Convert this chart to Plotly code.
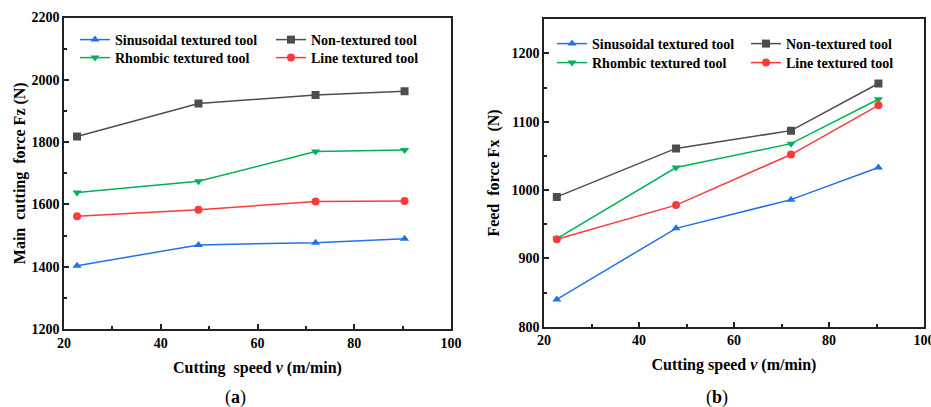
import plotly.graph_objects as go

speed = [22.7, 47.8, 72.0, 90.4]

series_names = ["Sinusoidal textured tool", "Non-textured tool",
                "Rhombic textured tool", "Line textured tool"]

# (a) Main cutting force Fz (N)
fz_sinusoidal = [1403, 1470, 1477, 1490]
fz_non = [1818, 1924, 1951, 1963]
fz_rhombic = [1638, 1674, 1770, 1775]
fz_line = [1562, 1583, 1609, 1611]

# (b) Feed force Fx (N)
fx_sinusoidal = [840, 944, 986, 1033]
fx_non = [990, 1061, 1087, 1156]
fx_rhombic = [929, 1033, 1068, 1133]
fx_line = [928, 978, 1052, 1124]

colors = ["#1f72e8", "#4d4d4d", "#00b05a", "#fb3b3b"]
symbols = ["triangle-up", "square", "triangle-down", "circle"]

FONT = "Liberation Serif"
W, H = 931, 407

fig = go.Figure()

left_data = [fz_sinusoidal, fz_non, fz_rhombic, fz_line]
right_data = [fx_sinusoidal, fx_non, fx_rhombic, fx_line]

for i in range(4):
    fig.add_trace(go.Scatter(
        x=speed, y=left_data[i], name=series_names[i], mode="lines+markers",
        line=dict(color=colors[i], width=1.5),
        marker=dict(symbol=symbols[i], size=8, color=colors[i]),
        xaxis="x", yaxis="y", legend="legend" if i == 0 else f"legend{i + 1}"))
for i in range(4):
    fig.add_trace(go.Scatter(
        x=speed, y=right_data[i], name=series_names[i], mode="lines+markers",
        line=dict(color=colors[i], width=1.5),
        marker=dict(symbol=symbols[i], size=8, color=colors[i]),
        xaxis="x2", yaxis="y2", legend=f"legend{i + 5}"))

tickfont = dict(family=FONT, size=14, color="black", weight="bold")
titlefont = dict(family=FONT, size=16, color="black", weight="bold")
axcommon = dict(showline=True, mirror=True, linecolor="#222", linewidth=1.5,
                ticks="inside", ticklen=5, tickwidth=1.5, tickcolor="#222",
                showgrid=False, zeroline=False, tickfont=tickfont, automargin=False,
                ticklabeloverflow="allow")

fig.update_layout(
    width=W, height=H, margin=dict(l=0, r=0, t=0, b=0),
    paper_bgcolor="white", plot_bgcolor="white",
    xaxis=dict(domain=[64 / W, 451 / W], range=[20, 100], dtick=20,
               minor=dict(dtick=10, ticks="inside", ticklen=3, tickcolor="#222"),
               title=dict(text="Cutting\u00a0 speed <i>v</i> (m/min)", font=titlefont, standoff=12),
               anchor="y", **axcommon),
    yaxis=dict(domain=[(H - 329) / H, (H - 17.5) / H], range=[1200, 2200], dtick=200,
               minor=dict(dtick=100, ticks="inside", ticklen=3, tickcolor="#222"),
               title=dict(text="Main\u00a0 cutting\u00a0 force Fz (N)", font=titlefont, standoff=2),
               anchor="x", **axcommon),
    xaxis2=dict(domain=[544 / W, 924 / W], range=[20, 100], dtick=20,
                minor=dict(dtick=10, ticks="inside", ticklen=3, tickcolor="#222"),
                title=dict(text="Cutting speed <i>v</i> (m/min)", font=titlefont, standoff=12),
                anchor="y2", **axcommon),
    yaxis2=dict(domain=[(H - 326.7) / H, (H - 19.3) / H], range=[800, 1250], dtick=100,
                minor=dict(dtick=50, ticks="inside", ticklen=3, tickcolor="#222"),
                title=dict(text="Feed\u00a0 force Fx\u00a0 (N)", font=titlefont, standoff=8),
                anchor="x2", **axcommon),
    showlegend=True,
)

legfont = dict(family=FONT, size=14, color="black", weight="bold")
leg_common = dict(font=legfont, bgcolor="rgba(0,0,0,0)", borderwidth=0,
                  xanchor="left", yanchor="middle", itemwidth=30)
# legend positions (pixels): left-panel columns/rows, right-panel columns/rows
leg_pos = {
    "legend": (75, 40), "legend2": (271, 40), "legend3": (75, 58), "legend4": (271, 58),
    "legend5": (552, 44), "legend6": (746, 44), "legend7": (552, 63), "legend8": (746, 63),
}
fig.update_layout(**{k: dict(x=px / W, y=(H - py) / H, **leg_common)
                     for k, (px, py) in leg_pos.items()})

fig.add_annotation(text="(<b>a</b>)", x=235 / W, y=(H - 397) / H, xref="paper", yref="paper",
                   showarrow=False, font=dict(family=FONT, size=18, color="black"),
                   xanchor="center", yanchor="middle")
fig.add_annotation(text="(<b>b</b>)", x=717 / W, y=(H - 397) / H, xref="paper", yref="paper",
                   showarrow=False, font=dict(family=FONT, size=18, color="black"),
                   xanchor="center", yanchor="middle")

fig.write_html("out.html")
